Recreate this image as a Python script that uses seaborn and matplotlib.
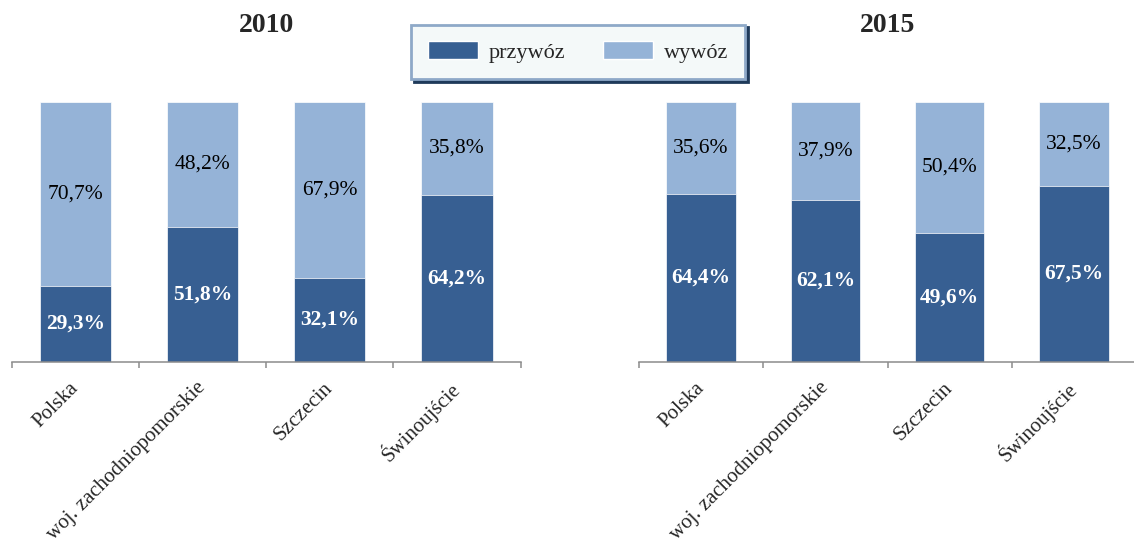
import numpy as np
import pandas as pd
import matplotlib.pyplot as plt
from matplotlib.patches import Patch
import seaborn as sns

# dane (udział w %)
regions = ["Polska", "woj. zachodniopomorskie", "Szczecin", "Świnoujście"]
years = ["2010", "2015"]
przywoz_2010 = [29.3, 51.8, 32.1, 64.2]
wywoz_2010 = [70.7, 48.2, 67.9, 35.8]
przywoz_2015 = [64.4, 62.1, 49.6, 67.5]
wywoz_2015 = [35.6, 37.9, 50.4, 32.5]

DARK = "#375F92"
LIGHT = "#95B3D7"
AXIS_GRAY = "#8C8C8C"


def fmt(v):
    return f"{v:.1f}%".replace(".", ",")


def draw_panel(ax, przywoz, wywoz):
    df = pd.DataFrame({"region": regions, "przywoz": przywoz, "wywoz": wywoz})
    df["total"] = df["przywoz"] + df["wywoz"]

    # cały słupek (jasny) + przywóz na nim (ciemny)
    sns.barplot(data=df, x="region", y="total", color=LIGHT, saturation=1,
                width=0.56, edgecolor="white", linewidth=0.5, ax=ax)
    sns.barplot(data=df, x="region", y="przywoz", color=DARK, saturation=1,
                width=0.56, edgecolor="white", linewidth=0.5, ax=ax)

    dark_bars = ax.containers[1]
    ax.bar_label(dark_bars, labels=[fmt(v) for v in przywoz], label_type="center",
                 color="white", fontsize=15.5, fontweight="bold")
    for bar, p, w in zip(dark_bars, przywoz, wywoz):
        ax.text(bar.get_x() + bar.get_width() / 2, p + w / 2, fmt(w),
                ha="center", va="center", fontsize=15.5, color="black")

    ax.set_ylim(0, 100)
    ax.set_xlim(-0.5, len(regions) - 0.5)
    ax.set_xlabel("")
    ax.set_ylabel("")
    ax.set_yticks([])
    for side in ["top", "right", "left"]:
        ax.spines[side].set_visible(False)
    ax.spines["bottom"].set_color(AXIS_GRAY)
    ax.spines["bottom"].set_linewidth(1.1)

    ax.set_xticks(np.arange(-0.5, len(regions)), minor=True)
    ax.tick_params(axis="x", which="minor", direction="out", length=4,
                   width=1.1, color=AXIS_GRAY, bottom=True)
    ax.tick_params(axis="x", which="major", length=0, pad=17, labelsize=15)
    for lab in ax.get_xticklabels():
        lab.set_rotation(45)
        lab.set_ha("right")
        lab.set_va("center")
        lab.set_rotation_mode("anchor")


sns.set_style("white")
plt.rcParams["font.family"] = ["Liberation Serif", "DejaVu Serif"]

fig = plt.figure(figsize=(11.34, 5.39), dpi=100)
ax1 = fig.add_axes([12 / 1134, 1 - 361.7 / 539, 508.5 / 1134, 260 / 539])
ax2 = fig.add_axes([639 / 1134, 1 - 361.7 / 539, 497 / 1134, 260 / 539])

draw_panel(ax1, przywoz_2010, wywoz_2010)
draw_panel(ax2, przywoz_2015, wywoz_2015)

for ax, year in zip([ax1, ax2], years):
    pos = ax.get_position()
    fig.text(pos.x0 + pos.width / 2, 1 - 25.5 / 539, year, ha="center",
             va="center", fontsize=20, fontweight="bold")

handles = [Patch(facecolor=DARK, label="przywóz"), Patch(facecolor=LIGHT, label="wywóz")]
fig.legend(handles=handles, ncol=2, loc="center",
           bbox_to_anchor=(578 / 1134, 1 - 52 / 539), fontsize=16,
           frameon=True, fancybox=False, edgecolor="#8EA9C8", facecolor="#F4F9F9",
           framealpha=1, shadow={"color": "#1F3A5A", "alpha": 1},
           handlelength=2.25, handleheight=0.86, handletextpad=0.5,
           columnspacing=1.7, borderpad=0.75)
fig.legends[0].get_frame().set_linewidth(2)

fig.savefig("out.png", dpi=100)
plt.close(fig)
